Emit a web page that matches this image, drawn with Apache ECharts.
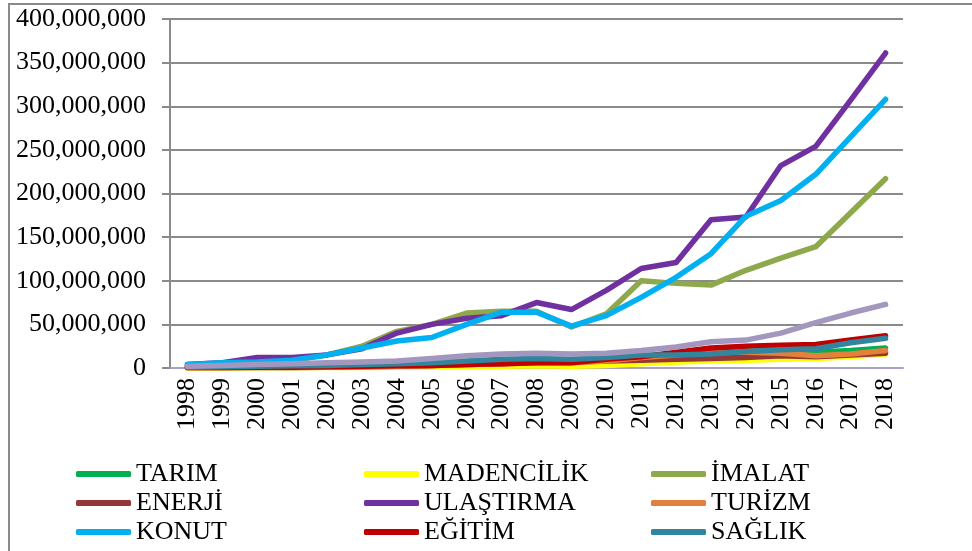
<!DOCTYPE html>
<html>
<head>
<meta charset="utf-8">
<script src="https://cdn.jsdelivr.net/npm/echarts@6/dist/echarts.min.js"></script>
<style>
  html, body { margin: 0; padding: 0; background: #fff; }
  #chart { width: 972px; height: 551px; }
</style>
</head>
<body>
<div id="chart"></div>
<script>
const years = ['1998','1999','2000','2001','2002','2003','2004','2005','2006','2007',
  '2008','2009','2010','2011','2012','2013','2014','2015','2016','2017','2018']

// values in millions
const tarim      = [0.5, 0.5, 0.8, 1, 1.5, 2, 2.5, 3, 4, 5, 6, 6, 7, 9, 10, 11, 13, 16, 18, 20, 23]
const madencilik = [0, 0, 0.2, 0.3, 0.5, 0.7, 1, 1.2, 1.5, 2, 2.5, 2, 3, 5, 7, 8, 9, 10, 11, 13, 16]
const imalat     = [2, 4, 6, 9, 15, 25, 42, 50, 63, 65, 65, 47, 62, 100, 97, 95, 112, 126, 139, 178, 217]
const enerji     = [0.5, 0.5, 0.5, 0.5, 1, 1.5, 2, 3, 4, 5, 7, 7, 8, 9, 10, 11, 12, 14, 13, 15, 17]
const ulastirma  = [4, 6, 12, 12, 15, 22, 40, 50, 57, 60, 75, 67, 89, 114, 121, 170, 173, 232, 254, 307, 361]
const turizm     = [0.3, 0.3, 0.5, 0.7, 1, 1.5, 2, 3, 4, 5, 6, 6, 8, 12, 15, 20, 18, 17, 14, 16, 20]
const konut      = [4, 6, 7, 9, 15, 23, 31, 35, 50, 64, 64, 48, 60, 81, 104, 131, 174, 192, 222, 265, 308]
const egitim     = [0.5, 0.5, 1, 1, 1.5, 2, 2.5, 3, 4, 5, 6, 6, 10, 13, 18, 23, 25, 26, 27, 32, 37]
const saglik     = [1, 1.5, 2, 2.5, 3, 4, 5, 6, 8, 10, 11, 10, 12, 15, 15, 16, 19, 21, 22, 29, 34]
const diger      = [2, 3, 4, 5, 6, 7, 8, 11, 14, 16, 17, 16, 17, 20, 24, 30, 32, 40, 52, 63, 73]

const yTicks = { min: 0, max: 400000000, interval: 50000000 }

const colors = {
  'TARIM': '#00B050', 'MADENCİLİK': '#FFFF00', 'İMALAT': '#8EA94B', 'ENERJİ': '#953735',
  'ULAŞTIRMA': '#7030A0', 'TURİZM': '#E3803C', 'KONUT': '#00B0F0', 'EĞİTİM': '#C00000',
  'SAĞLIK': '#31859C', 'DİĞER': '#A397BF'
}

const seriesList = [
  ['TARIM', tarim], ['MADENCİLİK', madencilik], ['İMALAT', imalat], ['ENERJİ', enerji],
  ['ULAŞTIRMA', ulastirma], ['TURİZM', turizm], ['KONUT', konut], ['EĞİTİM', egitim],
  ['SAĞLIK', saglik], ['DİĞER', diger]
]

const font = '"Liberation Serif", "Times New Roman", serif'

function legendCol(left, names) {
  return {
    data: names, orient: 'vertical', left, top: 456,
    icon: 'roundRect', itemWidth: 55, itemHeight: 6, itemGap: 3,
    textStyle: { fontFamily: font, fontSize: 26, color: '#000', lineHeight: 24 }
  }
}

const chart = echarts.init(document.getElementById('chart'))
chart.setOption({
  animation: false,
  textStyle: { fontFamily: font },
  graphic: [{
    type: 'rect', shape: { x: 9, y: 4, width: 1000, height: 600 },
    style: { fill: 'none', stroke: '#8a8a8a', lineWidth: 2 }, silent: true, z: -1
  }],
  grid: { left: 170, right: 69, top: 19, bottom: 183 },
  legend: [
    legendCol(71, ['TARIM', 'ENERJİ', 'KONUT']),
    legendCol(359, ['MADENCİLİK', 'ULAŞTIRMA', 'EĞİTİM']),
    legendCol(646, ['İMALAT', 'TURİZM', 'SAĞLIK'])
  ],
  xAxis: {
    type: 'category', data: years, boundaryGap: true,
    axisLine: { lineStyle: { color: '#ab9fcc', width: 2 } },
    axisTick: { length: 5, lineStyle: { color: '#ab9fcc', width: 1 } },
    axisLabel: { rotate: 90, fontFamily: font, fontSize: 26, color: '#000', margin: 10, interval: 0 },
    splitLine: { show: false }
  },
  yAxis: {
    type: 'value', min: yTicks.min, max: yTicks.max, interval: yTicks.interval,
    axisLine: { show: true, lineStyle: { color: '#8a8a8a', width: 2 } },
    axisTick: { show: true, length: 8, lineStyle: { color: '#8a8a8a', width: 2 } },
    axisLabel: {
      fontFamily: font, fontSize: 26, color: '#000', margin: 24,
      formatter: v => v.toLocaleString('en-US')
    },
    splitLine: { lineStyle: { color: '#8a8a8a', width: 2 } }
  },
  series: seriesList.map(([name, vals]) => ({
    name, type: 'line', data: vals.map(v => v * 1e6),
    symbol: 'none', color: colors[name],
    lineStyle: { width: 5.5, color: colors[name], cap: 'round', join: 'round' }
  }))
})
</script>
</body>
</html>
